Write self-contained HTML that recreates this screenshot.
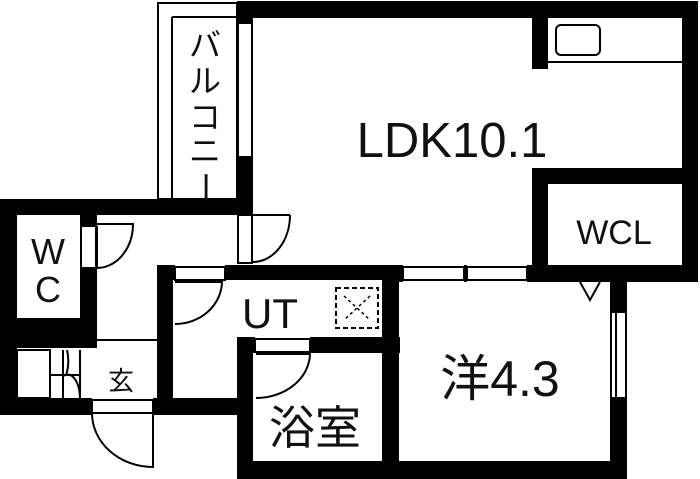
<!DOCTYPE html>
<html><head><meta charset="utf-8"><style>
html,body{margin:0;padding:0;background:#fff;width:700px;height:479px;overflow:hidden}
svg{display:block}
text{font-family:"Liberation Sans","Noto Sans CJK JP",sans-serif;fill:#111}
</style></head><body>
<svg width="700" height="479" viewBox="0 0 700 479" xmlns="http://www.w3.org/2000/svg">
<g fill="#000">
<rect x="237" y="1" width="461" height="17"/>
<rect x="682" y="1" width="16" height="281"/>
<rect x="532" y="17" width="16" height="52"/>
<rect x="532" y="168" width="16" height="114"/>
<rect x="532" y="168" width="150" height="16"/>
<rect x="532" y="265" width="166" height="17"/>
<rect x="383" y="265" width="20" height="17"/>
<rect x="464" y="265" width="3" height="17"/>
<rect x="527" y="265" width="25" height="17"/>
<rect x="606" y="265" width="21" height="17"/>
<rect x="610" y="265" width="17" height="47"/>
<rect x="610" y="398" width="17" height="81"/>
<rect x="382" y="265" width="17" height="214"/>
<rect x="237" y="461" width="390" height="18"/>
<rect x="237" y="1" width="16" height="22"/>
<rect x="237" y="157" width="16" height="58"/>
<rect x="0" y="199" width="253" height="16"/>
<rect x="0" y="199" width="17" height="216"/>
<rect x="80" y="199" width="17" height="27"/>
<rect x="80" y="268" width="17" height="80"/>
<rect x="0" y="318" width="97" height="30"/>
<rect x="0" y="398" width="92" height="17"/>
<rect x="153" y="398" width="100" height="17"/>
<rect x="157" y="265" width="16" height="150"/>
<rect x="225" y="265" width="175" height="15"/>
<rect x="157" y="265" width="18" height="15"/>
<rect x="237" y="337" width="16" height="142"/>
<rect x="310" y="337" width="90" height="16"/>
<rect x="237" y="337" width="18" height="16"/>
</g>
<g fill="none" stroke="#000" stroke-width="2">
<rect x="158" y="3" width="79" height="196"/>
<line x1="172" y1="17" x2="172" y2="199"/>
<line x1="172" y1="17" x2="237" y2="17"/>
<rect x="238" y="23" width="14" height="134"/>
<rect x="238" y="215" width="14" height="48"/>
<line x1="253" y1="215" x2="290" y2="215"/>
<path d="M290 215 A37 47 0 0 1 253 262"/>
<line x1="548" y1="62" x2="682" y2="62"/>
<rect x="556" y="25" width="44" height="30" rx="5"/>
<rect x="403" y="267" width="61" height="13"/>
<rect x="467" y="267" width="60" height="13"/>
<rect x="552" y="267" width="54" height="13"/>
<path d="M580 282 L590 300 L600 282"/>
<rect x="611" y="312" width="15" height="86"/>
<line x1="616" y1="312" x2="616" y2="398"/>
<rect x="81" y="226" width="15" height="42"/>
<line x1="97" y1="226" x2="97" y2="268"/>
<path d="M97 224 L133 224 A36 44 0 0 1 97 268"/>
<rect x="175" y="267" width="50" height="13"/>
<path d="M175 282 L222 282 A47 43 0 0 1 175 324"/>
<rect x="255" y="339" width="55" height="13"/>
<path d="M256 354 L310 354 A54 45 0 0 1 256 398"/>
<rect x="336" y="288" width="42" height="40" stroke-dasharray="5,3"/>
<path d="M344 296 L370 320 M370 296 L344 320" stroke-dasharray="3,3" stroke-width="1.5"/>
<line x1="97" y1="340" x2="157" y2="340"/>
<rect x="17" y="350" width="33" height="48"/>
<line x1="50" y1="350" x2="50" y2="398"/>
<line x1="63" y1="350" x2="63" y2="398"/>
<line x1="80" y1="350" x2="80" y2="398"/>
<line x1="50" y1="375" x2="80" y2="375"/>
<path d="M67 350 A12 24 0 0 1 66 375 A12 24 0 0 1 80 398"/>
<rect x="92" y="400" width="61" height="13"/>
<path d="M92 413 L153 413 L153 467 A61 54 0 0 1 92 413"/>
</g>
<text x="452" y="157" font-size="49" text-anchor="middle">LDK10.1</text>
<text x="614" y="244" font-size="34" text-anchor="middle">WCL</text>
<text x="500" y="396" font-size="50" text-anchor="middle">洋4.3</text>
<text x="270" y="328" font-size="42" text-anchor="middle">UT</text>
<text x="315" y="444" font-size="46" text-anchor="middle">浴室</text>
<text x="121" y="390" font-size="26" text-anchor="middle">玄</text>
<text x="48" y="264" font-size="36" text-anchor="middle">W</text>
<text x="48" y="302" font-size="36" text-anchor="middle">C</text>
<g font-size="32" text-anchor="middle">
<text x="205" y="56">バ</text>
<text x="205" y="92">ル</text>
<text x="205" y="128">コ</text>
<text x="205" y="162">ニ</text>
<text x="205" y="198" transform="rotate(90 205 187)">ー</text>
</g>
</svg>
</body></html>
